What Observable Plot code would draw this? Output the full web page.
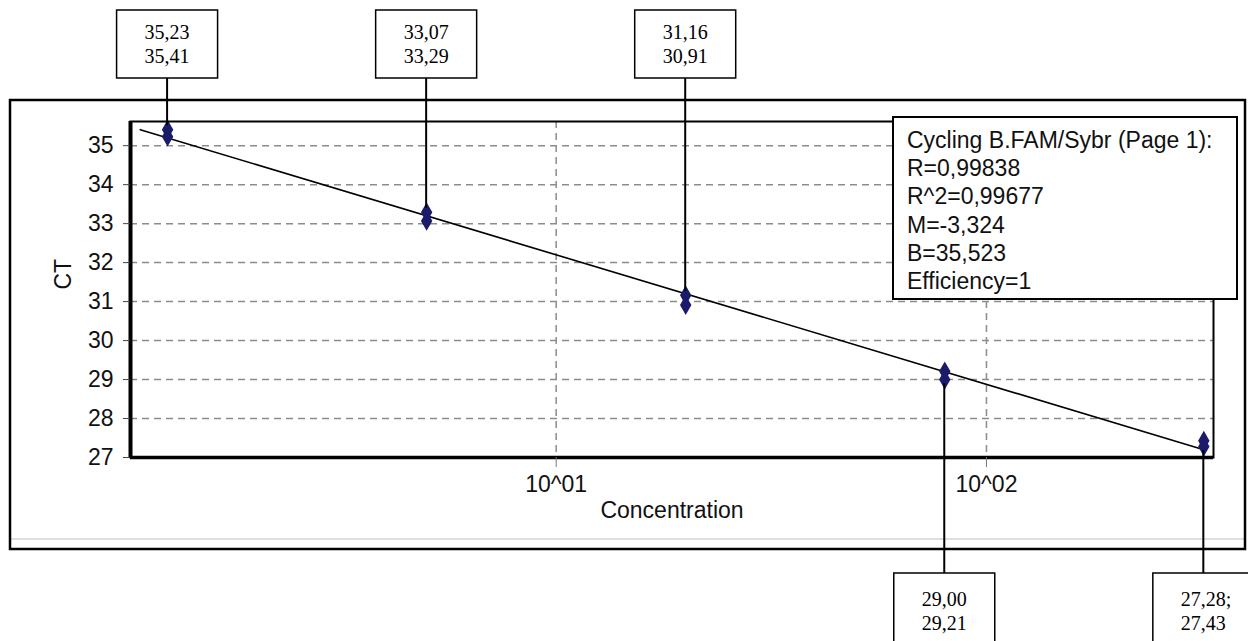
<!DOCTYPE html>
<html>
<head>
<meta charset="utf-8">
<script src="https://cdn.jsdelivr.net/npm/d3@7"></script>
<script src="https://cdn.jsdelivr.net/npm/@observablehq/plot@0.6"></script>
<style>
  html, body { margin: 0; padding: 0; background: white; }
  svg { display: block; }
</style>
</head>
<body>
<div id="chart"></div>
<script>
// ---- data ----
const concentrations = [1.25, 5, 20, 80, 320];
const ctRun1 = [35.23, 33.07, 31.16, 29.00, 27.28];
const ctRun2 = [35.41, 33.29, 30.91, 29.21, 27.43];
const boxLine1 = ["35,23", "33,07", "31,16", "29,00", "27,28;"];
const boxLine2 = ["35,41", "33,29", "30,91", "29,21", "27,43"];
const boxSide = ["top", "top", "top", "bottom", "bottom"];
const fitConc = [1.08, 320];
const fitCT = [35.41, 27.20];
const xTicks = [10, 100];
const xTickLabels = ["10^01", "10^02"];
const yTicks = [27, 28, 29, 30, 31, 32, 33, 34, 35];
const legendLines = [
  "Cycling B.FAM/Sybr (Page 1):",
  "R=0,99838",
  "R^2=0,99677",
  "M=-3,324",
  "B=35,523",
  "Efficiency=1"
];

// ---- tables built from the arrays ----
const points = [];
concentrations.forEach((c, i) => {
  points.push({conc: c, ct: ctRun1[i]});
  points.push({conc: c, ct: ctRun2[i]});
});
const fit = fitConc.map((c, i) => ({conc: c, ct: fitCT[i]}));
const xDomain = [1.025, 337];
const yDomain = [27, 35.62];

const sans = "'Liberation Sans', Arial, sans-serif";
const serif = "'Liberation Serif', 'Times New Roman', serif";
const grid = {stroke: "#8c8c8c", strokeWidth: 1.5, strokeDasharray: "7,5"};

const plot = Plot.plot({
  width: 1248,
  height: 641,
  marginLeft: 130,
  marginRight: 35,
  marginTop: 121,
  marginBottom: 184,
  style: {fontFamily: sans, fontSize: "23px", background: "white", color: "#111", overflow: "visible"},
  x: {type: "log", domain: xDomain},
  y: {domain: yDomain},
  marks: [
    Plot.ruleY(yTicks.filter(d => d > yDomain[0]), grid),
    Plot.ruleX(xTicks, grid),
    Plot.line(fit, {x: "conc", y: "ct", stroke: "black", strokeWidth: 1.6}),
    Plot.dot(points, {x: "conc", y: "ct", symbol: "diamond", r: 6, fill: "#1b1b6b"}),
    Plot.frame({stroke: "black", strokeWidth: 2}),
    Plot.ruleX([xDomain[0]], {stroke: "black", strokeWidth: 4}),
    Plot.ruleY([yDomain[0]], {stroke: "black", strokeWidth: 3.5}),
    Plot.axisY(yTicks, {tickSize: 7, tickPadding: 10, label: null, fontSize: 23, stroke: "#444"}),
    Plot.axisX(xTicks, {tickSize: 10, tickPadding: 8, label: null, fontSize: 23, stroke: "#777",
      tickFormat: d => xTickLabels[xTicks.indexOf(d)]}),
    Plot.text(["CT"], {frameAnchor: "left", dx: -67, rotate: -90, fontSize: 23}),
    Plot.text(["Concentration"], {frameAnchor: "bottom", dy: 60, fontSize: 23})
  ]
});

document.getElementById("chart").appendChild(plot);

// ---- annotations positioned with the plot's own scales ----
const sx = plot.scale("x");
const sy = plot.scale("y");
const svg = d3.select(plot);
const ann = svg.append("g").attr("text-anchor", "start");

// outer window frame
ann.append("line").attr("x1", 11).attr("x2", 1244).attr("y1", 539).attr("y2", 539)
  .attr("stroke", "#d4d4d4").attr("stroke-width", 1.5);
ann.append("rect").attr("x", 10).attr("y", 100).attr("width", 1235).attr("height", 449)
  .attr("fill", "none").attr("stroke", "black").attr("stroke-width", 2.5);

// legend box
const lg = ann.append("g");
lg.append("rect").attr("x", 893).attr("y", 117).attr("width", 344).attr("height", 182)
  .attr("fill", "white").attr("stroke", "black").attr("stroke-width", 2);
legendLines.forEach((t, i) => {
  lg.append("text").attr("x", 907).attr("y", 140 + i * 28.2)
    .attr("text-anchor", "start")
    .attr("dominant-baseline", "central")
    .attr("font-family", sans).attr("font-size", 23).attr("fill", "#111").text(t);
});

// value call-out boxes with leader lines
const boxW = 101, boxH = 68;
concentrations.forEach((c, i) => {
  const cx = sx.apply(c);
  const hi = Math.max(ctRun1[i], ctRun2[i]);
  const lo = Math.min(ctRun1[i], ctRun2[i]);
  let by, ly1, ly2;
  if (boxSide[i] === "top") {
    by = 10;
    ly1 = by + boxH;
    ly2 = sy.apply(hi) - 4;
  } else {
    by = 573;
    ly1 = by;
    ly2 = sy.apply(lo) + 4;
  }
  ann.append("line").attr("x1", cx).attr("x2", cx).attr("y1", ly1).attr("y2", ly2)
    .attr("stroke", "black").attr("stroke-width", 2);
  const bx = cx - boxW / 2;
  ann.append("rect").attr("x", bx).attr("y", by).attr("width", boxW).attr("height", boxH + (boxSide[i] === "bottom" ? 10 : 0))
    .attr("fill", "white").attr("stroke", "black").attr("stroke-width", 1.5);
  [boxLine1[i], boxLine2[i]].forEach((t, k) => {
    ann.append("text").attr("x", bx + 28).attr("y", by + (boxSide[i] === "top" ? 22 : 26) + k * 24)
      .attr("text-anchor", "start")
      .attr("dominant-baseline", "central")
      .attr("font-family", serif).attr("font-size", 20).attr("fill", "black").text(t);
  });
});
</script>
</body>
</html>
